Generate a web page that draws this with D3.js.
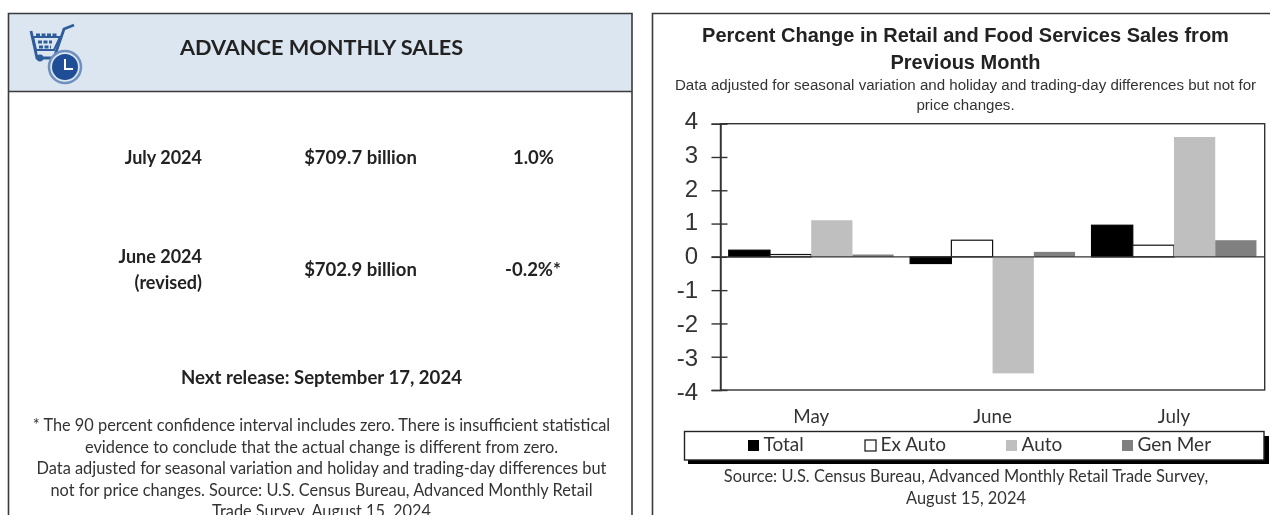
<!DOCTYPE html>
<html><head><meta charset="utf-8">
<style>html,body{margin:0;padding:0;background:#fff;overflow:hidden}svg{display:block;filter:blur(0.4px)}</style>
<script src="https://cdn.jsdelivr.net/npm/d3@7/dist/d3.min.js"></script>
</head><body><svg id="c" width="1270" height="515"></svg>
<script>
const months = ["May","June","July"];
const seriesNames = ["Total","Ex Auto","Auto","Gen Mer"];
const total = [0.2,-0.2,0.95];
const exAuto = [0.07,0.5,0.35];
const auto = [1.1,-3.5,3.6];
const genMer = [0.07,0.15,0.5];
const seriesValues = [total,exAuto,auto,genMer];
const yTicks = [4,3,2,1,0,-1,-2,-3,-4];
const titleLines = ["Percent Change in Retail and Food Services Sales from","Previous Month"];
const subtitleLines = ["Data adjusted for seasonal variation and holiday and trading-day differences but not for","price changes."];
const sourceLines = ["Source: U.S. Census Bureau, Advanced Monthly Retail Trade Survey,","August 15, 2024"];
const noteLines = ["The 90 percent confidence interval includes zero. There is insufficient statistical","evidence to conclude that the actual change is different from zero.","Data adjusted for seasonal variation and holiday and trading-day differences but","not for price changes. Source: U.S. Census Bureau, Advanced Monthly Retail","Trade Survey, August 15, 2024"];
const leftFont = "Lato, 'Open Sans', sans-serif", rightFont = "'Liberation Sans', Arial, sans-serif";
const ink = "#333";

const svg = d3.select("#c");
function text(t,x,y,o={}){
  return svg.append("text").text(t).attr("x",x).attr("y",y).attr("text-anchor",o.a||"middle")
    .attr("font-family",o.f||leftFont).attr("font-size",o.s||14).attr("font-weight",o.w||400).attr("fill",o.c||ink);
}
// left panel
svg.append("rect").attr("x",8.5).attr("y",13.5).attr("width",623.5).attr("height",78).attr("fill","#dce6f1");
svg.append("path").attr("d","M8.5 516V13.5H632V516M8.5 91.5H632").attr("fill","none").attr("stroke","#3a3a3a").attr("stroke-width",1.6);
// icon
const ic = svg.append("g");
ic.append("path").attr("d","M31 31L37 58H54L64 29L74 25").attr("fill","none").attr("stroke","#2f5c9a").attr("stroke-width",2.8);
ic.append("path").attr("d","M33 37H60L54 50H36Z").attr("fill","none").attr("stroke","#2f5c9a").attr("stroke-width",2);
ic.append("path").attr("d","M36 35h21M38 42h14M39 47h12").attr("stroke","#2f5c9a").attr("stroke-width",3).attr("stroke-dasharray","4 1.5");
ic.append("circle").attr("cx",40).attr("cy",58).attr("r",3.4).attr("fill","#2f5c9a");
ic.append("circle").attr("cx",65).attr("cy",67).attr("r",16).attr("fill","#dce6f1").attr("stroke","#6f8fbc").attr("stroke-width",2.5);
ic.append("circle").attr("cx",65).attr("cy",67).attr("r",13).attr("fill","#1f4e96");
ic.append("path").attr("d","M65 59V69H73").attr("fill","none").attr("stroke","#fff").attr("stroke-width",2);

text("ADVANCE MONTHLY SALES",321.5,54.5,{s:21.7,w:700,c:"#222"});
const B={w:700,s:18,c:"#222"};
text("July 2024",202,164,{...B,a:"end"}); text("$709.7 billion",360.5,164,{...B,s:18.5}); text("1.0%",533.5,164,{...B,s:18.5});
text("June 2024",202,262.5,{...B,a:"end"}); text("(revised)",202,288.5,{...B,a:"end"});
text("$702.9 billion",360.5,276,{...B,s:18.5}); text("-0.2%*",533,276,{...B,s:18.5});
text("Next release: September 17, 2024",321.5,384,{...B,s:18.6});
noteLines.forEach((l,i)=>text((i==0?"* ":"")+l,321.5,431+i*21.6,{s:16.35,c:"#333"}));

// right panel
svg.append("path").attr("d","M652.5 516V13.5H1271").attr("fill","none").attr("stroke","#3a3a3a").attr("stroke-width",1.6);
text(titleLines[0],965.5,42,{f:rightFont,s:20,w:700,c:"#222"});
text(titleLines[1],965.5,69,{f:rightFont,s:20,w:700,c:"#222"});
subtitleLines.forEach((l,i)=>text(l,965.5,90+i*20,{f:rightFont,s:15.1}));

const m={l:720.5,r:1264.7,t:123.7,b:390};
const x0=d3.scaleBand().domain(months).range([m.l,m.r]);
const x1=d3.scaleBand().domain(seriesNames).range([0,x0.bandwidth()]).paddingInner(0).paddingOuter(0.2);
const y=d3.scaleLinear().domain([-4,4]).range([m.b,m.t]);
const fills={"Total":"#000","Ex Auto":"#fff","Auto":"#bfbfbf","Gen Mer":"#808080"};
const strokes={"Total":"#000","Ex Auto":"#111","Auto":"none","Gen Mer":"none"};

svg.append("rect").attr("x",m.l).attr("y",m.t).attr("width",m.r-m.l).attr("height",m.b-m.t).attr("fill","#fff");
const rows=seriesNames.flatMap((s,si)=>months.map((mo,mi)=>({s,mo,v:seriesValues[si][mi]})));
svg.append("g").selectAll("rect").data(rows).join("rect")
  .attr("x",d=>x0(d.mo)+x1(d.s)).attr("width",x1.bandwidth())
  .attr("y",d=>y(Math.max(0,d.v))).attr("height",d=>Math.abs(y(d.v)-y(0)))
  .attr("fill",d=>fills[d.s]).attr("stroke",d=>strokes[d.s]).attr("stroke-width",1.2);

svg.append("rect").attr("x",m.l).attr("y",m.t).attr("width",m.r-m.l).attr("height",m.b-m.t).attr("fill","none").attr("stroke","#333").attr("stroke-width",1.4);
const ya=svg.append("g").attr("transform",`translate(${m.l},0)`).call(d3.axisLeft(y).tickValues(yTicks).tickSize(9).tickPadding(9).tickFormat(d=>String(d)));
ya.select(".domain").attr("stroke","#333").attr("stroke-width",1.4);
ya.selectAll(".tick line").attr("stroke","#333").attr("stroke-width",1.4).attr("x2",7).attr("x1",-9);
ya.selectAll(".tick text").attr("font-family",rightFont).attr("font-size",24).attr("fill","#333").attr("dy","0.32em").attr("x",-22.5).attr("y",d=>-0.8-0.55*d);
svg.append("line").attr("x1",m.l-9).attr("x2",m.r).attr("y1",y(0)).attr("y2",y(0)).attr("stroke","#333").attr("stroke-width",1.4);
months.forEach(mo=>text(mo,x0(mo)+x0.bandwidth()/2,423,{s:18.8}));

// legend
svg.append("rect").attr("x",688).attr("y",436).attr("width",581).attr("height",28).attr("fill","#000");
svg.append("rect").attr("x",684.5).attr("y",431.5).attr("width",579.5).attr("height",28.5).attr("fill","#fff").attr("stroke","#222").attr("stroke-width",1.4);
const legX=[748,865,1006,1122];
const lg=svg.append("g").selectAll("g").data(seriesNames).join("g").attr("transform",(d,i)=>`translate(${legX[i]},445)`);
lg.append("rect").attr("x",0).attr("y",-5).attr("width",11).attr("height",11).attr("fill",d=>fills[d]).attr("stroke",d=>d=="Ex Auto"?"#111":"none").attr("stroke-width",1.2);
lg.append("text").text(d=>d).attr("x",15.5).attr("y",6).attr("font-family",leftFont).attr("font-size",19).attr("fill",ink);
sourceLines.forEach((l,i)=>text(l,966,482,{s:16.4}).attr("y",482+i*21.5));
</script></body></html>
